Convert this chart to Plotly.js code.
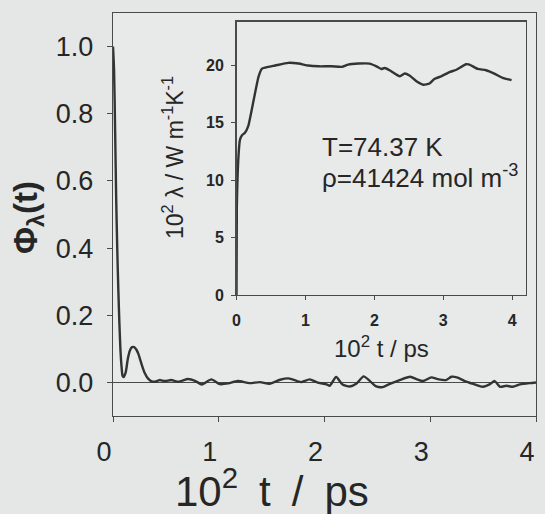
<!DOCTYPE html>
<html>
<head>
<meta charset="utf-8">
<script src="https://cdn.plot.ly/plotly-3.0.1.min.js"></script>
<style>html,body{margin:0;padding:0;background:#e4e7e6;}#chart{width:545px;height:514px;}</style>
</head>
<body>
<div id="chart"></div>
<script>
// Main curve: normalized heat-flux autocorrelation function
const mainT = [0, 0.01, 0.02, 0.03, 0.04, 0.05, 0.06, 0.07, 0.08, 0.09, 0.10, 0.12, 0.14, 0.16, 0.18, 0.20, 0.22, 0.24, 0.26, 0.28, 0.30, 0.33, 0.36, 0.40, 0.44, 0.49, 0.55, 0.62, 0.71, 0.78, 0.84, 0.93, 1.01, 1.09, 1.18, 1.29, 1.39, 1.48, 1.58, 1.66, 1.74, 1.78, 1.86, 1.93, 2.02, 2.05, 2.11, 2.17, 2.24, 2.30, 2.37, 2.43, 2.49, 2.55, 2.58, 2.63, 2.71, 2.81, 2.87, 2.93, 3.01, 3.07, 3.15, 3.20, 3.26, 3.34, 3.44, 3.50, 3.56, 3.61, 3.66, 3.72, 3.78, 3.85, 3.94, 4.0];
const mainPhi = [1.0, 0.93, 0.75, 0.55, 0.40, 0.28, 0.18, 0.10, 0.05, 0.02, 0.016, 0.03, 0.07, 0.095, 0.105, 0.105, 0.098, 0.085, 0.065, 0.045, 0.028, 0.012, 0.004, 0.002, 0.007, 0.004, 0.007, 0.002, 0.010, 0.004, -0.006, 0.009, -0.005, -0.003, 0.004, -0.002, 0.001, -0.004, 0.008, 0.012, 0.004, 0.001, 0.009, 0.0, -0.006, -0.010, 0.016, -0.006, -0.012, -0.004, 0.018, 0.004, -0.012, -0.014, -0.010, -0.003, 0.007, 0.017, 0.010, 0.004, 0.015, 0.010, 0.007, 0.017, 0.014, 0.002, -0.008, -0.013, -0.006, 0.004, -0.013, -0.010, -0.013, -0.006, -0.002, 0.0];

// Inset: running integral, thermal conductivity
const insetT = [0, 0.005, 0.03, 0.05, 0.08, 0.12, 0.17, 0.25, 0.32, 0.37, 0.46, 0.56, 0.75, 0.90, 1.04, 1.19, 1.38, 1.53, 1.62, 1.77, 1.93, 2.03, 2.10, 2.15, 2.22, 2.37, 2.44, 2.51, 2.61, 2.71, 2.80, 2.87, 2.97, 3.09, 3.19, 3.33, 3.38, 3.50, 3.62, 3.74, 3.86, 3.99];
const insetLambda = [0, 7.7, 12.2, 13.5, 13.9, 14.1, 14.7, 17.0, 19.0, 19.7, 19.85, 19.97, 20.2, 20.14, 19.97, 19.9, 19.9, 19.85, 20.05, 20.14, 20.14, 19.9, 19.67, 19.75, 19.56, 19.03, 19.27, 19.1, 18.6, 18.3, 18.4, 18.8, 19.03, 19.4, 19.6, 20.08, 20.05, 19.67, 19.56, 19.27, 18.9, 18.7];

const mainXTicks = [0, 1, 2, 3, 4];
const mainYTicks = [0, 0.2, 0.4, 0.6, 0.8, 1.0];
const mainYTickText = ['0.0', '0.2', '0.4', '0.6', '0.8', '1.0'];
const insetXTicks = [0, 1, 2, 3, 4];
const insetYTicks = [0, 5, 10, 15, 20];

const FONT = 'Liberation Sans, Arial, Helvetica, sans-serif';
const INK = '#262626';
const W = 545, H = 514;
const px = v => v / W;
const py = v => 1 - v / H;

const traces = [
  {x: mainT, y: mainPhi, xaxis: 'x', yaxis: 'y', type: 'scatter', mode: 'lines',
   line: {color: '#333333', width: 2.4, shape: 'spline', smoothing: 0.6}, hoverinfo: 'skip'},
  {x: insetT, y: insetLambda, xaxis: 'x2', yaxis: 'y2', type: 'scatter', mode: 'lines',
   line: {color: '#333333', width: 2.4, shape: 'spline', smoothing: 0.5}, hoverinfo: 'skip'}
];

const axLine = {showline: true, mirror: true, linecolor: '#4a4a4a', linewidth: 1.4, showgrid: false, ticks: 'outside', tickcolor: '#4a4a4a'};

const layout = {
  width: W, height: H,
  margin: {l: 0, r: 0, t: 0, b: 0},
  paper_bgcolor: '#e4e7e6',
  plot_bgcolor: '#e7eae9',
  showlegend: false,
  font: {family: FONT, color: INK},
  xaxis: Object.assign({}, axLine, {
    domain: [px(113), px(536)], range: [0, 4], tickvals: mainXTicks, ticklen: 5,
    zeroline: false, tickfont: {size: 27, family: FONT, color: INK}, ticklabelstandoff: 6, ticklabelshift: -9
  }),
  yaxis: Object.assign({}, axLine, {
    domain: [py(416), py(13)], range: [-0.1, 1.1], tickvals: mainYTicks, ticktext: mainYTickText, ticklen: 5,
    zeroline: true, zerolinecolor: '#4a4a4a', zerolinewidth: 1.2,
    tickfont: {size: 27, family: FONT, color: INK}, ticklabelstandoff: 8
  }),
  xaxis2: Object.assign({}, axLine, {
    anchor: 'y2', domain: [px(236.5), px(526)], range: [0, 4.2], tickvals: insetXTicks, ticklen: 4,
    zeroline: false, tickfont: {size: 16, family: FONT, color: INK, weight: 'bold'}, ticklabelstandoff: 6
  }),
  yaxis2: Object.assign({}, axLine, {
    anchor: 'x2', domain: [py(295), py(21.5)], range: [0, 23.8], tickvals: insetYTicks, ticklen: 4,
    zeroline: false, tickfont: {size: 16, family: FONT, color: INK, weight: 'bold'}, ticklabelstandoff: 4
  }),
  shapes: [
    {type: 'rect', xref: 'x2 domain', yref: 'y2 domain', x0: 0, x1: 1, y0: 0, y1: 1,
     fillcolor: '#eceeed', line: {width: 0}, layer: 'below'}
  ],
  annotations: [
    {text: '10<sup>2</sup>\u2002t\u2002/\u2002ps', xref: 'paper', yref: 'paper', x: px(272), y: py(488),
     xanchor: 'center', yanchor: 'middle', showarrow: false, font: {size: 42, family: FONT, color: INK}},
    {text: 'Φ<sub>λ</sub>(t)', xref: 'paper', yref: 'paper', x: px(28), y: py(218), textangle: -90,
     xanchor: 'center', yanchor: 'middle', showarrow: false, font: {size: 33, family: FONT, color: INK, weight: 'bold'}},
    {text: '10<sup>2</sup> t / ps', xref: 'paper', yref: 'paper', x: px(381), y: py(347),
     xanchor: 'center', yanchor: 'middle', showarrow: false, font: {size: 24, family: FONT, color: INK}},
    {text: '10<sup>2</sup> λ / W m<sup>-1</sup>K<sup>-1</sup>', xref: 'paper', yref: 'paper', x: px(173), y: py(158), textangle: -90,
     xanchor: 'center', yanchor: 'middle', showarrow: false, font: {size: 23, family: FONT, color: INK}},
    {text: 'T=74.37 K', xref: 'paper', yref: 'paper', x: px(320), y: py(147),
     xanchor: 'left', yanchor: 'middle', showarrow: false, font: {size: 26, family: FONT, color: INK}},
    {text: 'ρ=41424 mol m<sup>-3</sup>', xref: 'paper', yref: 'paper', x: px(320), y: py(176),
     xanchor: 'left', yanchor: 'middle', showarrow: false, font: {size: 26, family: FONT, color: INK}}
  ]
};

Plotly.newPlot('chart', traces, layout, {staticPlot: true, displayModeBar: false});
</script>
</body>
</html>
